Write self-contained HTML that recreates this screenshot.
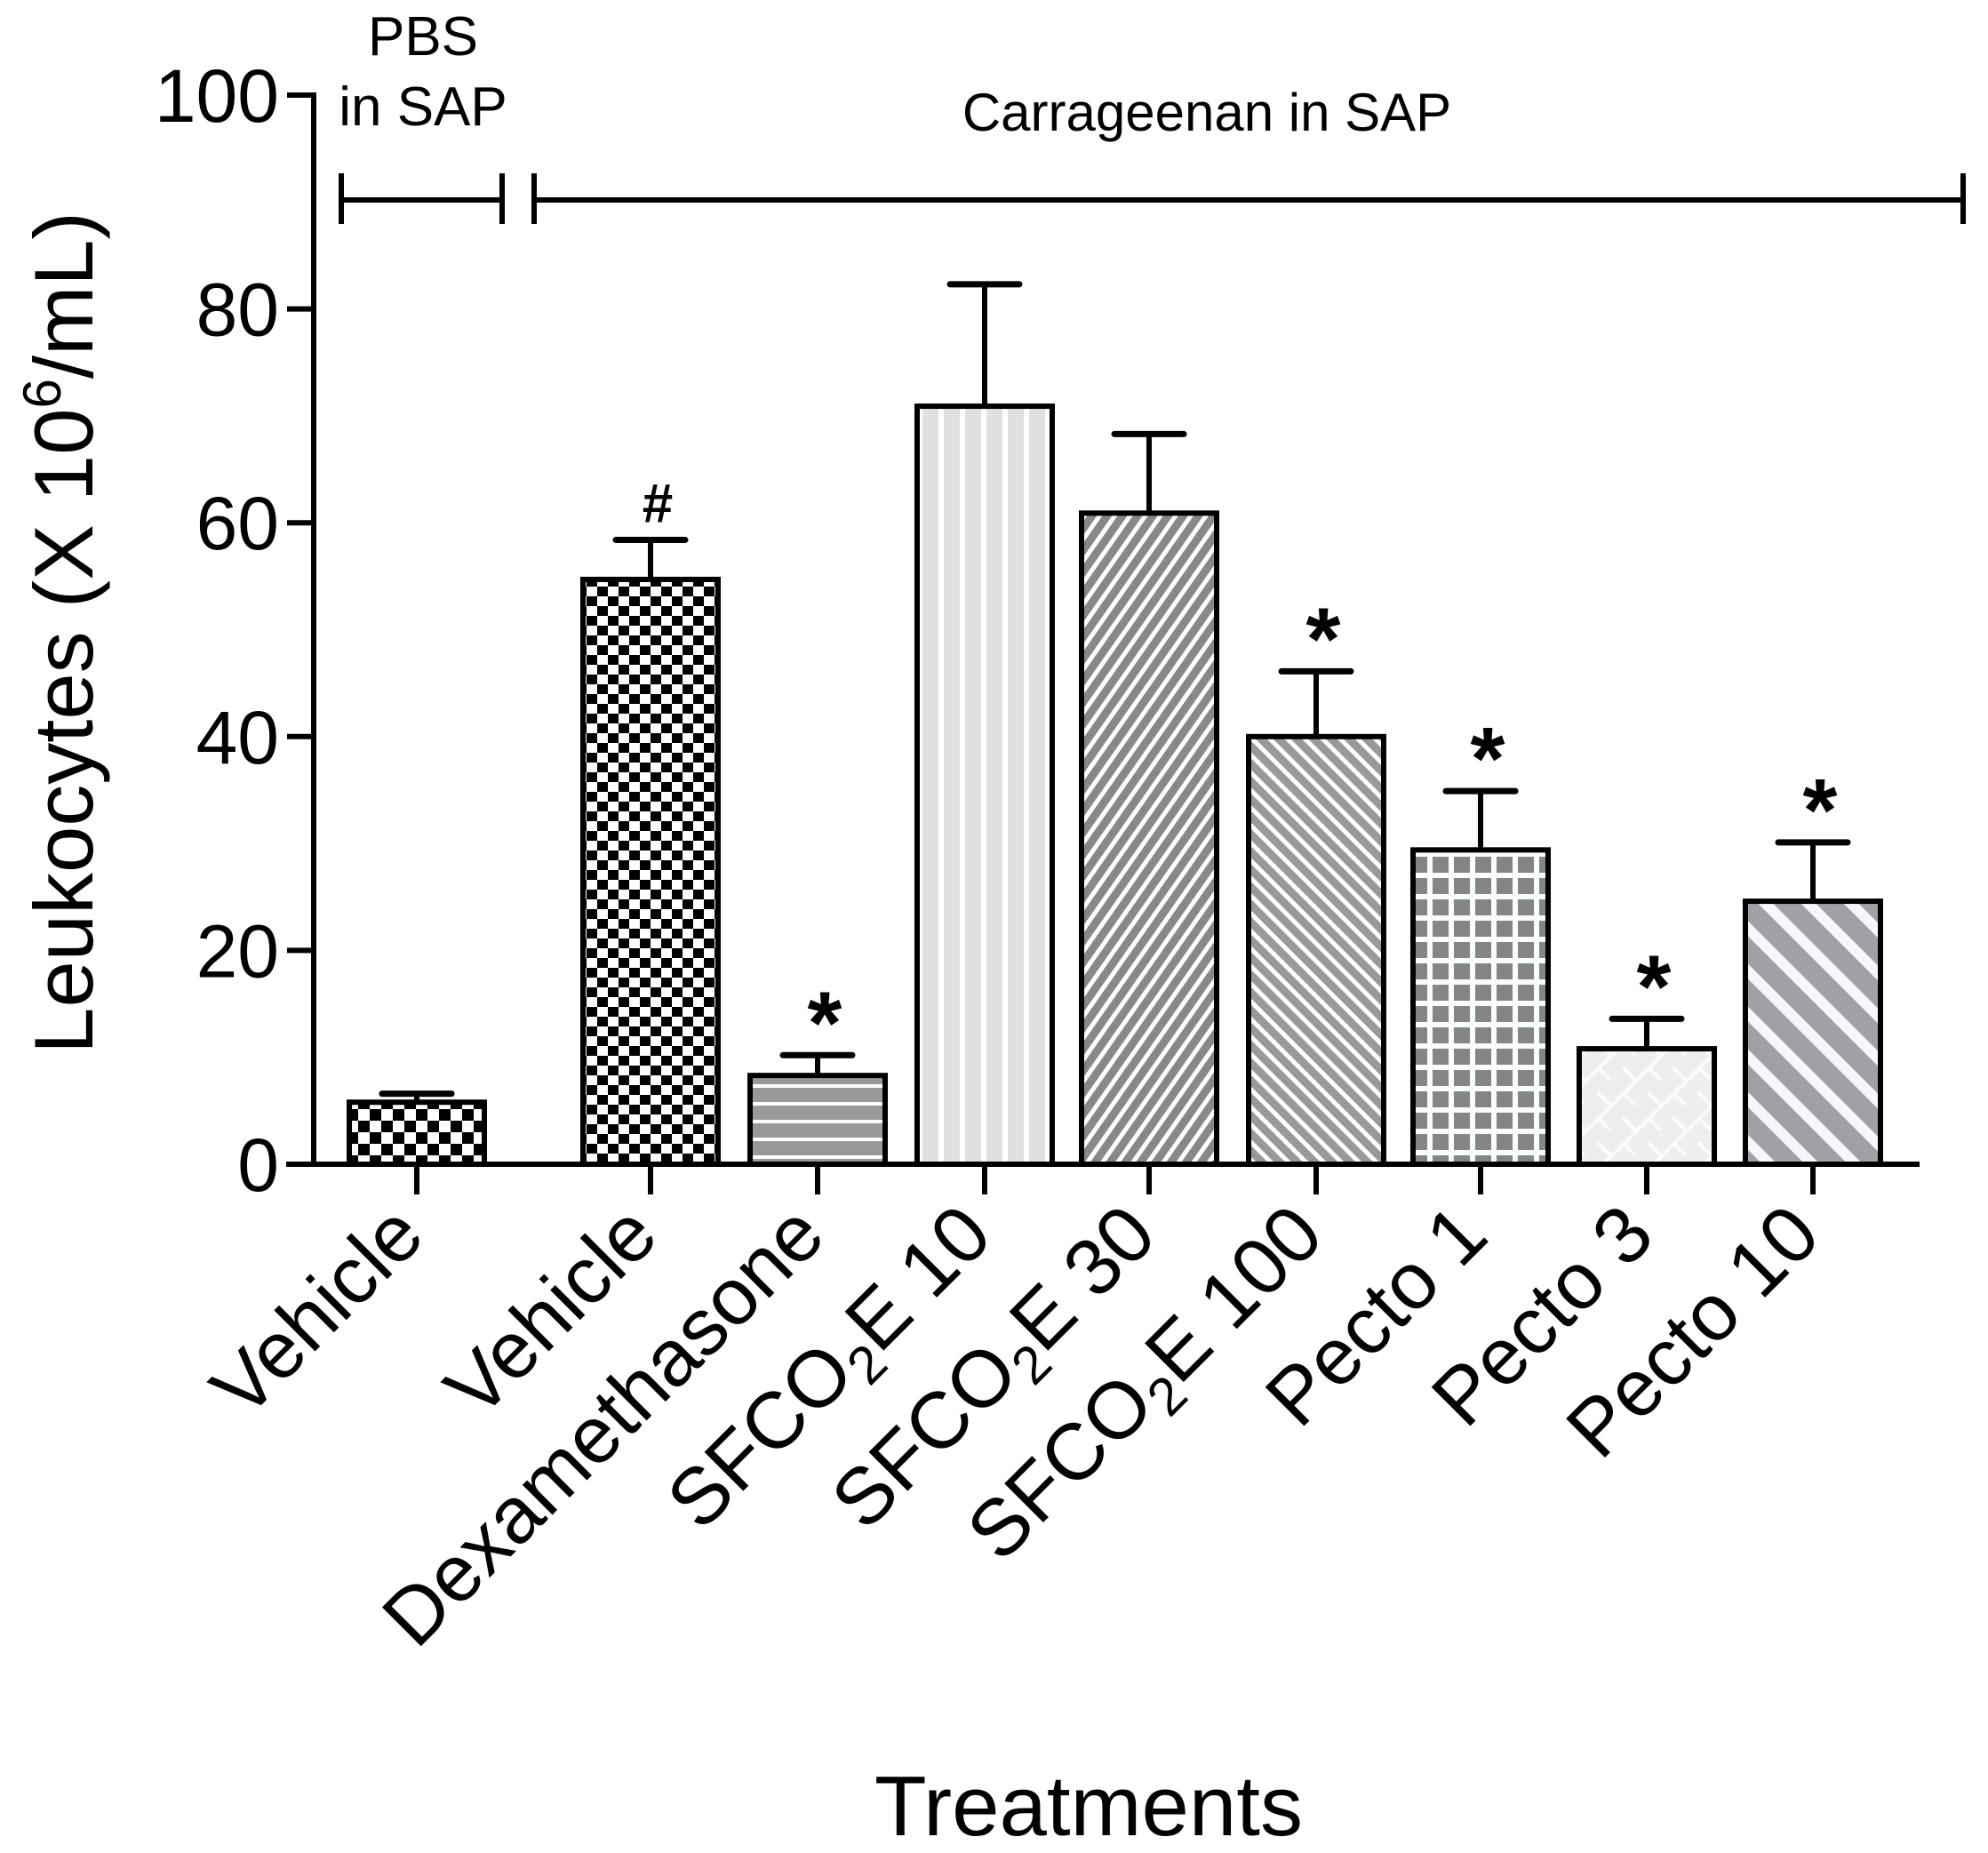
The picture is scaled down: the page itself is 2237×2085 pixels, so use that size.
<!DOCTYPE html>
<html><head><meta charset="utf-8"><style>
html,body{margin:0;padding:0;background:#fff}
svg{display:block}
text{font-family:"Liberation Sans",Arial,sans-serif;fill:#000}
</style></head><body>
<svg id="chart" width="2237" height="2085" viewBox="0 0 2237 2085" xmlns="http://www.w3.org/2000/svg">
<defs>
 <pattern id="p0" patternUnits="userSpaceOnUse" width="26" height="26"><rect width="26" height="26" fill="#fff"/><rect width="13" height="13" fill="#000"/><rect x="13" y="13" width="13" height="13" fill="#000"/></pattern>
 <pattern id="p1" patternUnits="userSpaceOnUse" width="24" height="22"><rect width="24" height="22" fill="#fff"/><rect width="12" height="11" fill="#000"/><rect x="12" y="11" width="12" height="11" fill="#000"/></pattern>
 <pattern id="p2" patternUnits="userSpaceOnUse" width="20" height="20"><rect width="20" height="20" fill="#999"/><rect y="0" width="20" height="4" fill="#fff"/></pattern>
 <pattern id="p3" patternUnits="userSpaceOnUse" width="24" height="20"><rect width="24" height="20" fill="#e0e0e0"/><rect x="0" width="6" height="20" fill="#fff"/></pattern>
 <pattern id="p4" patternUnits="userSpaceOnUse" width="14" height="14" patternTransform="rotate(35)"><rect width="14" height="14" fill="#888"/><rect width="5" height="14" fill="#fff"/></pattern>
 <pattern id="p5" patternUnits="userSpaceOnUse" width="14" height="14" patternTransform="rotate(-45)"><rect width="14" height="14" fill="#999"/><rect width="5" height="14" fill="#fff"/></pattern>
 <pattern id="p6" patternUnits="userSpaceOnUse" width="24" height="24"><rect width="24" height="24" fill="#f8fcfc"/><rect x="4" y="4" width="18" height="18" fill="#858585"/></pattern>
 <pattern id="p7" patternUnits="userSpaceOnUse" width="40" height="40" patternTransform="rotate(-45)"><rect width="40" height="40" fill="#eee"/><rect width="40" height="4" fill="#f8fcfc"/><rect x="0" y="20" width="4" height="20" fill="#f8fcfc"/><rect x="20" y="0" width="4" height="20" fill="#f8fcfc"/></pattern>
 <pattern id="p8" patternUnits="userSpaceOnUse" width="34" height="34" patternTransform="rotate(-45)"><rect width="34" height="34" fill="#a0a1a5"/><rect width="12" height="34" fill="#f6f7fb"/></pattern>
</defs>
<g id="plot"></g>
<text transform="translate(104,712) rotate(-90)" text-anchor="middle" font-size="94">Leukocytes (X 10<tspan font-size="60" dy="-36">6</tspan><tspan dy="36">/mL)</tspan></text>
<text x="1225" y="2065" text-anchor="middle" font-size="96">Treatments</text>
<text x="476" y="62" text-anchor="middle" font-size="62">PBS</text>
<text x="476" y="141" text-anchor="middle" font-size="62">in SAP</text>
<text x="1358" y="147" text-anchor="middle" font-size="60">Carrageenan in SAP</text>
<g stroke="#000" stroke-width="6"><line x1="384" y1="225" x2="565" y2="225"/><line x1="384" y1="195" x2="384" y2="252"/><line x1="565" y1="195" x2="565" y2="252"/></g>
<g stroke="#000" stroke-width="6"><line x1="601" y1="225" x2="2209" y2="225"/><line x1="601" y1="195" x2="601" y2="252"/><line x1="2209" y1="195" x2="2209" y2="252"/></g>
</svg>
<script>
const categories = ["Vehicle","Vehicle","Dexamethasone","SFCO2E 10","SFCO2E 30","SFCO2E 100","Pecto 1","Pecto 3","Pecto 10"];
const means = [5.8, 54.7, 8.3, 70.9, 60.9, 40.0, 29.4, 10.8, 24.6];
const errors = [0.8, 3.7, 1.9, 11.4, 7.4, 6.1, 5.5, 2.8, 5.5];
const marks = ["", "#", "*", "", "", "*", "*", "*", "*"];
const yTicks = [0, 20, 40, 60, 80, 100];

const NS = "http://www.w3.org/2000/svg";
const g = document.getElementById('plot');
const Y0 = 1310, PXU = 12.03, AX = 353, BW = 152;
const centers = [469, 732, 920, 1108, 1293, 1481, 1666, 1853, 2040];
function y(v){ return Y0 - v*PXU; }
function xc(i){ return centers[i]; }
function mk(tag, attrs){ const e = document.createElementNS(NS, tag); for (const k in attrs) e.setAttribute(k, attrs[k]); g.appendChild(e); return e; }

categories.forEach((c, i) => {
  const cx = xc(i), top = y(means[i]);
  const et = y(means[i] + errors[i]);
  const el = mk('line', {x1: cx, x2: cx, y1: top, y2: et, stroke: '#000', 'stroke-width': 6});
  
  
  const cap = mk('line', {x1: cx - 39, x2: cx + 39, y1: et, y2: et, stroke: '#000', 'stroke-width': 7, 'stroke-linecap': 'round'});
  
  
  const r = mk('rect', {x: cx - BW/2, y: top, width: BW, height: Y0 - top, fill: 'url(#p' + i + ')', stroke: '#000', 'stroke-width': 6});
  
  
  if (marks[i]) {
    const t = mk('text', {x: cx + 8, y: et - (marks[i] === '*' ? 2 : 20), 'text-anchor': 'middle', 'font-size': marks[i] === '*' ? 100 : 62, 'font-weight': 'bold'});
    t.textContent = marks[i];
    
    
  }
  const tk = mk('line', {x1: cx, x2: cx, y1: Y0, y2: Y0 + 34, stroke: '#000', 'stroke-width': 6});
  
  
  const lab = mk('text', {transform: 'translate(' + (cx + 12) + ',' + (Y0 + 84) + ') rotate(-45)', 'text-anchor': 'end', 'font-size': 90});
  if (c.startsWith('SFCO2E')) {
    lab.innerHTML = 'SFCO<tspan font-size="60" dy="18">2</tspan><tspan dy="-18">E' + c.slice(6) + '</tspan>';
  } else lab.textContent = c;
  
  
});

const ya = mk('line', {x1: AX, x2: AX, y1: y(100) - 3, y2: Y0 + 3, stroke: '#000', 'stroke-width': 6});


const xa = mk('line', {x1: 322, x2: 2160, y1: Y0, y2: Y0, stroke: '#000', 'stroke-width': 6});


yTicks.forEach(v => {
  const t = mk('line', {x1: 323, x2: AX, y1: y(v), y2: y(v), stroke: '#000', 'stroke-width': 6});
  
  
  const l = mk('text', {x: 314, y: y(v) + 30, 'text-anchor': 'end', 'font-size': 84});
  l.textContent = v;
  
  
});
</script>
</body></html>
